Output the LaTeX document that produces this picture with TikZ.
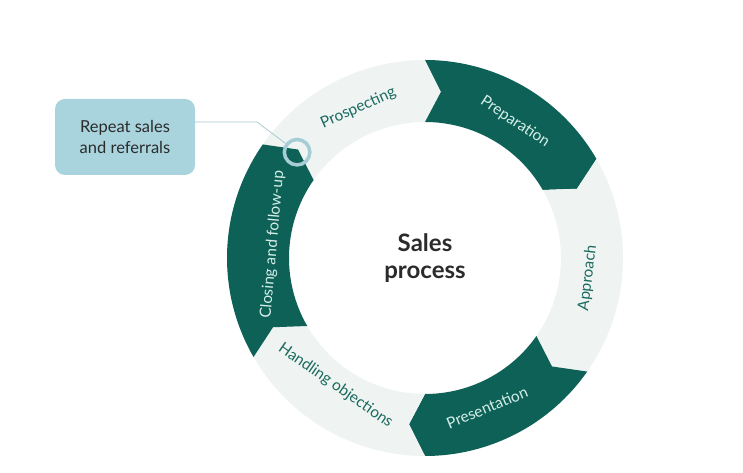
\documentclass[tikz,border=0pt]{standalone}
\usepackage{fontspec}
\setmainfont{Lato}
\definecolor{darkseg}{HTML}{0E6157}
\definecolor{lightseg}{HTML}{EFF4F3}
\definecolor{lighttxt}{HTML}{D3EFE8}
\definecolor{darktxt}{HTML}{1B6A5F}
\definecolor{calloutfill}{HTML}{A9D4DE}
\definecolor{ringblue}{HTML}{A6CDD6}
\definecolor{linkline}{HTML}{A8C8CF}
\definecolor{centertxt}{HTML}{2B2B2B}
\newcommand{\Ro}{198pt}
\newcommand{\Ri}{136pt}
\newcommand{\Rm}{167pt}
\newcommand{\tipd}{5.5}
% segment: #1 start (ccw end) angle, #2 end (cw end) angle
\newcommand{\ringseg}[3]{%
  \fill[#3] (#1:\Ro) arc[start angle=#1, end angle=#2, radius=\Ro]
    -- ({#2-\tipd}:\Rm) -- (#2:\Ri)
    arc[start angle=#2, end angle=#1, radius=\Ri]
    -- ({#1-\tipd}:\Rm) -- cycle;}
\tikzset{
  seglabel/.style={font=\fontsize{15.5}{18}\selectfont, inner sep=0pt},
  onlight/.style={seglabel, text=darktxt},
  ondark/.style={seglabel, text=lighttxt},
  callout/.style={fill=calloutfill, rounded corners=10pt, minimum width=140pt,
    minimum height=76pt, align=center, text=centertxt,
    font=\fontsize{16.5}{21}\selectfont, inner sep=0pt},
  marker/.style={circle, draw=ringblue, line width=3.5pt, minimum size=25.5pt, inner sep=0pt},
  linkstyle/.style={draw=linkline, line width=0.8pt}
}
\begin{document}
\begin{tikzpicture}[x=1pt,y=1pt]
\useasboundingbox (0,0) rectangle (743,473);
\fill[white] (0,0) rectangle (743,473);
\begin{scope}[shift={(425pt,215pt)}]
  \ringseg{145}{90}{lightseg}
  \ringseg{90}{30}{darkseg}
  \ringseg{30}{-35}{lightseg}
  \ringseg{-35}{-90}{darkseg}
  \ringseg{-90}{-150}{lightseg}
  \ringseg{210}{145}{darkseg}
  \node[onlight, rotate=24] (prosp) at (114:164pt) {Prospecting};
  \node[ondark, rotate=-33.5] (prep) at (56.5:163pt) {Preparation};
  \node[onlight, rotate=83] (appr) at (-7:164pt) {Approach};
  \node[ondark, rotate=22.5] (pres) at (-67.5:162pt) {Presentation};
  \node[onlight, rotate=-34.7] (handl) at (-125:156pt) {Handling objections};
  \node[ondark, rotate=85] (closing) at (175:153pt) {Closing and follow-up};
  \node[marker] (mk) at (140.4:166pt) {};
  \node[align=center, text=centertxt, font=\bfseries\fontsize{24}{27}\selectfont] (center) at (0,0) {Sales\\process};
\end{scope}
\node[callout] (box) at (125,336) {Repeat sales\\and referrals};
\coordinate (bend) at (257,351);
\draw[linkstyle] (box.east |- bend) -- (bend) -- (mk);
\end{tikzpicture}
\end{document}
